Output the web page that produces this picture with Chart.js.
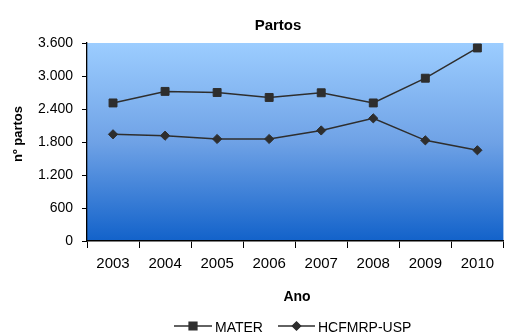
<!DOCTYPE html>
<html>
<head>
<meta charset="utf-8">
<script src="https://cdn.jsdelivr.net/npm/chart.js@4/dist/chart.umd.min.js"></script>
<style>
  html, body { margin: 0; padding: 0; overflow: hidden; background: #fff; }
  canvas { display: block; }
</style>
</head>
<body>
<canvas id="partos" width="510" height="334"></canvas>
<script>
// Births per year at each hospital
const years = ['2003', '2004', '2005', '2006', '2007', '2008', '2009', '2010'];
const mater = [2510, 2720, 2700, 2610, 2695, 2510, 2960, 3510];
const hcfmrp = [1940, 1915, 1855, 1855, 2010, 2230, 1830, 1650];
const yTicks = [0, 600, 1200, 1800, 2400, 3000, 3600];

const FONT = '"Liberation Sans", Arial, sans-serif';
const INK = '#2e2e2e';

// thousands separator in pt-BR style: 3.600
const fmt = v => String(v).replace(/\B(?=(\d{3})+(?!\d))/g, '.');

// blue gradient behind the plot area
const plotBackground = {
  id: 'plotBackground',
  beforeDraw(chart) {
    const { ctx, chartArea: a } = chart;
    const g = ctx.createLinearGradient(0, a.top, 0, a.bottom);
    g.addColorStop(0, '#9CCDFF');
    g.addColorStop(0.5, '#6FA2E6');
    g.addColorStop(1, '#1262CA');
    ctx.save();
    ctx.fillStyle = g;
    ctx.fillRect(a.left, a.top, a.right - a.left, a.bottom - a.top);
    ctx.restore();
  }
};

// chart title, axis titles and the line-and-marker legend
const labels = {
  id: 'labels',
  afterDraw(chart) {
    const ctx = chart.ctx;
    ctx.save();
    ctx.fillStyle = '#000';
    ctx.textAlign = 'center';
    ctx.textBaseline = 'alphabetic';

    ctx.font = 'bold 15px ' + FONT;
    ctx.fillText('Partos', 278, 30);

    ctx.font = 'bold 14px ' + FONT;
    ctx.fillText('Ano', 297, 301);

    ctx.font = 'bold 13px ' + FONT;
    ctx.save();
    ctx.translate(22, 134);
    ctx.rotate(-Math.PI / 2);
    ctx.fillText('nº partos', 0, 0);
    ctx.restore();

    // legend
    const items = [
      { ds: chart.data.datasets[0], x0: 174, x1: 212, r: 5.6 },
      { ds: chart.data.datasets[1], x0: 278, x1: 315, r: 4.2 }
    ];
    const ly = 326;
    ctx.font = '14px ' + FONT;
    ctx.textAlign = 'left';
    ctx.textBaseline = 'alphabetic';
    items.forEach(it => {
      ctx.strokeStyle = it.ds.borderColor;
      ctx.fillStyle = it.ds.pointBackgroundColor;
      ctx.lineWidth = 1.3;
      ctx.beginPath();
      ctx.moveTo(it.x0, ly);
      ctx.lineTo(it.x1, ly);
      ctx.stroke();
      Chart.helpers.drawPoint(ctx, {
        pointStyle: it.ds.pointStyle,
        radius: it.r,
        borderWidth: 1
      }, (it.x0 + it.x1) / 2, ly);
      ctx.fillStyle = '#000';
      ctx.fillText(it.ds.label, it.x1 + 3, 332);
    });
    ctx.restore();
  }
};

Chart.defaults.font.family = FONT;

new Chart(document.getElementById('partos'), {
  type: 'line',
  data: {
    labels: years,
    datasets: [
      {
        label: 'MATER',
        data: mater,
        borderColor: INK,
        backgroundColor: INK,
        pointBackgroundColor: INK,
        pointBorderColor: INK,
        borderWidth: 1.5,
        pointStyle: 'rect',
        pointRadius: 5.6,
        pointBorderWidth: 1,
        tension: 0
      },
      {
        label: 'HCFMRP-USP',
        data: hcfmrp,
        borderColor: INK,
        backgroundColor: INK,
        pointBackgroundColor: INK,
        pointBorderColor: INK,
        borderWidth: 1.5,
        pointStyle: 'rectRot',
        pointRadius: 4.6,
        pointBorderWidth: 1,
        tension: 0
      }
    ]
  },
  options: {
    responsive: false,
    animation: false,
    events: [],
    layout: { padding: { left: 0, right: 0, top: 43, bottom: 53 } },
    plugins: {
      legend: { display: false },
      title: { display: false },
      tooltip: { enabled: false }
    },
    scales: {
      x: {
        offset: true,
        grid: {
          offset: true,
          drawOnChartArea: false,
          drawTicks: true,
          tickLength: 7,
          color: '#000',
          lineWidth: 1
        },
        border: { display: true, color: '#000', width: 1.6 },
        ticks: { color: '#000', font: { size: 15 }, padding: 7, maxRotation: 0 },
        afterFit(scale) { scale.height = 40; }
      },
      y: {
        min: yTicks[0],
        max: yTicks[yTicks.length - 1],
        afterBuildTicks(scale) { scale.ticks = yTicks.map(v => ({ value: v })); },
        grid: {
          drawOnChartArea: false,
          drawTicks: true,
          tickLength: 5,
          color: '#000',
          lineWidth: 1
        },
        border: { display: true, color: '#000', width: 1.3 },
        ticks: { color: '#000', font: { size: 14 }, padding: 9, callback: v => fmt(v) },
        afterFit(scale) { scale.width = 87; }
      }
    }
  },
  plugins: [plotBackground, labels]
});
</script>
</body>
</html>
